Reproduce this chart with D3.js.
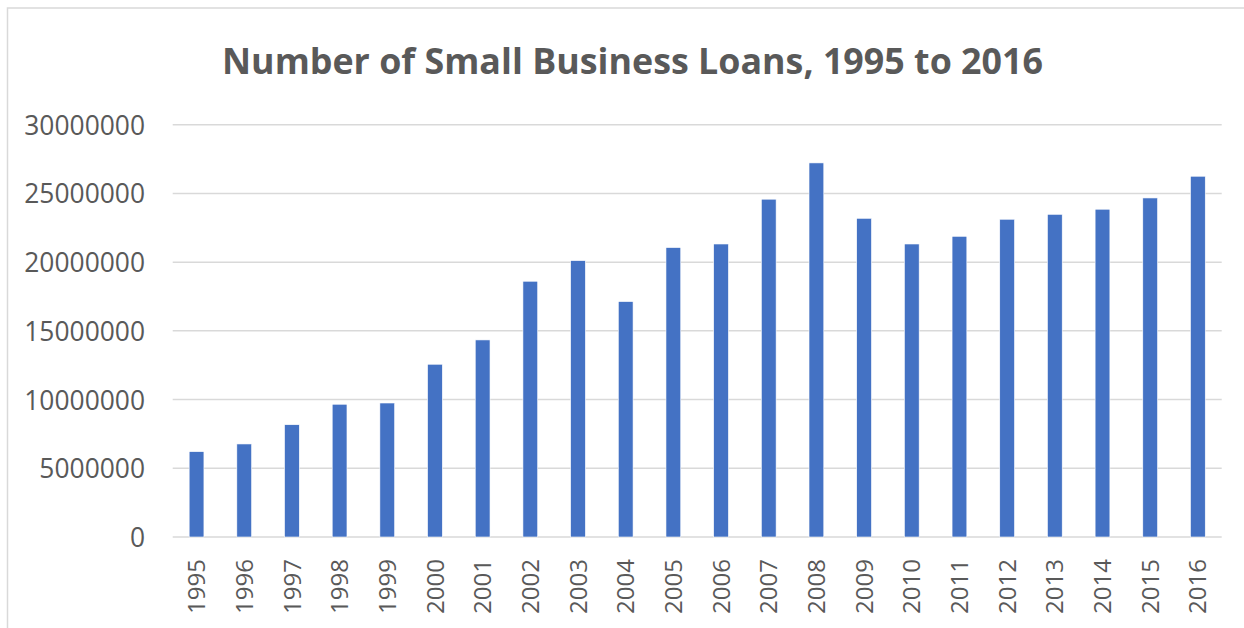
<!DOCTYPE html>
<html>
<head>
<meta charset="utf-8">
<script src="https://cdn.jsdelivr.net/npm/d3@7"></script>
<style>
  html, body { margin: 0; padding: 0; background: #fff; }
  svg { display: block; }
</style>
</head>
<body>
<svg id="chart" width="1244" height="628"></svg>
<script>
const title = "Number of Small Business Loans, 1995 to 2016";
const years = ["1995","1996","1997","1998","1999","2000","2001","2002","2003","2004","2005","2006","2007","2008","2009","2010","2011","2012","2013","2014","2015","2016"];
const loans = [6210000, 6770000, 8170000, 9660000, 9750000, 12570000, 14340000, 18610000, 20110000, 17130000, 21060000, 21320000, 24580000, 27220000, 23190000, 21320000, 21880000, 23120000, 23480000, 23850000, 24670000, 26250000];
const yTicks = [0, 5000000, 10000000, 15000000, 20000000, 25000000, 30000000];

const svg = d3.select("#chart");
const W = 1244, H = 628;
const plotLeft = 172.7, plotRight = 1221.7, plotTop = 124.7, plotBottom = 537;
const textColor = "#595959";

// chart area border (top and left edges visible)
svg.append("rect")
  .attr("x", 7.5).attr("y", 8).attr("width", W + 20).attr("height", H + 20)
  .attr("fill", "#fff").attr("stroke", "#d9d9d9").attr("stroke-width", 1.5);

const x = d3.scaleBand().domain(years).range([plotLeft, plotRight]).paddingInner(0.69).paddingOuter(0.345);
const y = d3.scaleLinear().domain([0, 30000000]).range([plotBottom, plotTop]);

// gridlines
svg.append("g").selectAll("line").data(yTicks).join("line")
  .attr("x1", plotLeft).attr("x2", plotRight)
  .attr("y1", d => y(d)).attr("y2", d => y(d))
  .attr("stroke", "#d9d9d9").attr("stroke-width", 1.5);

// y axis labels
const yAxis = d3.axisLeft(y).tickValues(yTicks).tickSize(0).tickPadding(0).tickFormat(d3.format("d"));
const yg = svg.append("g").attr("transform", `translate(${145},0)`).call(yAxis);
yg.select(".domain").remove();
yg.selectAll("text")
  .attr("fill", textColor)
  .style("font-family", "'Open Sans', sans-serif")
  .style("font-size", "26.4px")
  .attr("dy", "0.36em");

// bars
svg.append("g").selectAll("rect").data(years).join("rect")
  .attr("x", d => x(d))
  .attr("width", x.bandwidth())
  .attr("y", (d, i) => y(loans[i]))
  .attr("height", (d, i) => y(0) - y(loans[i]))
  .attr("fill", "#4472C4")
  .attr("stroke", "#fff").attr("stroke-width", 0.6);

// x axis labels
const xAxis = d3.axisBottom(x).tickSize(0).tickPadding(0);
const xg = svg.append("g").attr("transform", `translate(0,${plotBottom})`).call(xAxis);
xg.select(".domain").remove();
xg.selectAll("text")
  .attr("fill", textColor)
  .style("font-family", "'Open Sans', sans-serif")
  .style("font-size", "24px")
  .attr("text-anchor", "end")
  .attr("transform", "rotate(-90)")
  .attr("x", -22)
  .attr("y", 0)
  .attr("dy", "0.36em");

// title
const t = svg.append("text")
  .attr("x", 632.5).attr("y", 74.3)
  .attr("text-anchor", "middle")
  .attr("fill", textColor)
  .style("font-family", "'Open Sans', sans-serif")
  .style("font-weight", "bold")
  .style("font-size", "36px")
  .text(title);
const len = t.node().getComputedTextLength();
if (len > 821) {
  t.attr("textLength", 821).attr("lengthAdjust", "spacingAndGlyphs");
}
</script>
</body>
</html>
